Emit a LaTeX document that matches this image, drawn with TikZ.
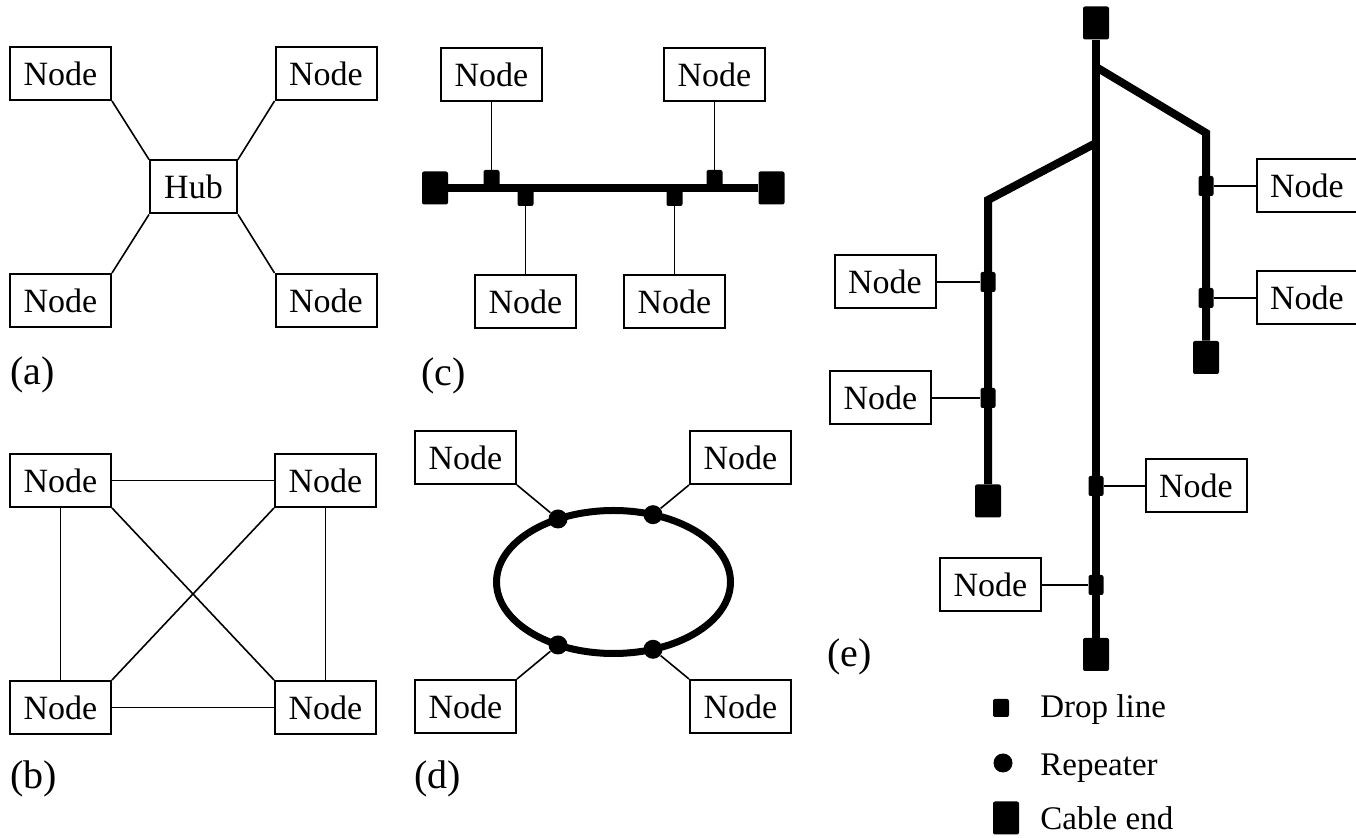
\documentclass[tikz,border=0pt]{standalone}
\usepackage{fontspec}
\setmainfont{Liberation Serif}
\begin{document}
\begin{tikzpicture}[x=0.5pt,y=-0.5pt]
  \tikzstyle{every node}+=[inner sep=0pt]
  \tikzstyle{box}=[draw, line width=1pt, minimum width=50.5pt, minimum height=26.5pt, font=\fontsize{17}{20}\selectfont]
  \tikzstyle{link}=[line width=0.8pt]
  \tikzstyle{drop}=[line width=0.7pt]
  \tikzstyle{cable}=[line width=4pt]
  \tikzstyle{ring}=[line width=3.5pt]
  \tikzstyle{cableend}=[fill, rounded corners=1pt, minimum width=13pt, minimum height=16.5pt]
  \tikzstyle{tap}=[fill, rounded corners=1pt, minimum width=8pt, minimum height=9pt]
  \tikzstyle{vtap}=[tap, minimum width=7.5pt, minimum height=10pt]
  \tikzstyle{repeater}=[circle, fill, minimum size=9.5pt]
  \tikzstyle{caption}=[anchor=west, font=\fontsize{20}{24}\selectfont]
  \tikzstyle{legend}=[anchor=base west, font=\fontsize{16.5}{20}\selectfont]
  \useasboundingbox (0,0) rectangle (1356,838);

  % (a) star
  \node[box] (a1) at (60.5,73.5) {Node};
  \node[box] (a2) at (326,73.5) {Node};
  \node[box] (a3) at (60.5,300.5) {Node};
  \node[box] (a4) at (326,300.5) {Node};
  \node[box, minimum width=43.5pt] (hub) at (193.5,187) {Hub};
  \draw[link] (a1.south east) -- (hub.north west);
  \draw[link] (a2.south west) -- (hub.north east);
  \draw[link] (a3.north east) -- (hub.south west);
  \draw[link] (a4.north west) -- (hub.south east);
  \node[caption] (capa) at (10,375) {(a)};

  % (b) mesh
  \node[box] (b1) at (60.5,480.5) {Node};
  \node[box] (b2) at (325.5,480.5) {Node};
  \node[box] (b3) at (60.5,707.5) {Node};
  \node[box] (b4) at (325.5,707.5) {Node};
  \draw[link] (b1.east) -- (b2.west);
  \draw[link] (b3.east) -- (b4.west);
  \draw[link] (b1.south) -- (b3.north);
  \draw[link] (b2.south) -- (b4.north);
  \draw[link] (b1.south east) -- (b4.north west);
  \draw[link] (b2.south west) -- (b3.north east);
  \node[caption] (capb) at (10,779) {(b)};

  % (c) bus
  \node[box] (c1) at (491.5,74.5) {Node};
  \node[box] (c2) at (714.5,74.5) {Node};
  \node[box] (c3) at (525.5,302) {Node};
  \node[box] (c4) at (674.5,302) {Node};
  \node[cableend] (cl) at (435,188) {};
  \node[cableend] (cr) at (771.5,188) {};
  \draw[cable] (cl) -- (cr);
  \node[tap] (t1) at (491.5,179) {};
  \node[tap] (t2) at (714.5,179) {};
  \node[tap] (t3) at (525.5,197) {};
  \node[tap] (t4) at (674.5,197) {};
  \draw[link] (c1.south) -- (t1.north);
  \draw[link] (c2.south) -- (t2.north);
  \draw[link] (c3.north) -- (t3.south);
  \draw[link] (c4.north) -- (t4.south);
  \node[caption] (capc) at (421,376) {(c)};

  % (d) ring
  \node[box] (d1) at (465.5,457.5) {Node};
  \node[box] (d2) at (740.5,457.5) {Node};
  \node[box] (d3) at (465.5,706.5) {Node};
  \node[box] (d4) at (740.5,706.5) {Node};
  \draw[ring] (613.5,582) ellipse [x radius=58.5pt, y radius=35.75pt];
  \node[repeater] (r1) at (558,519) {};
  \node[repeater] (r2) at (653,514.7) {};
  \node[repeater] (r3) at (558,645) {};
  \node[repeater] (r4) at (653,649.3) {};
  \draw[link] (d1.south east) -- (r1);
  \draw[link] (d2.south west) -- (r2);
  \draw[link] (d3.north east) -- (r3);
  \draw[link] (d4.north west) -- (r4);
  \node[caption] (capd) at (414,779) {(d)};

  % (e) tree
  \node[cableend] (e0) at (1096,23) {};
  \node[cableend] (eR) at (1206,357.5) {};
  \node[cableend] (eL) at (988,501) {};
  \node[cableend] (eB) at (1096,654.5) {};
  \coordinate (jr) at (1096,67);
  \coordinate (kr) at (1206,133);
  \coordinate (jl) at (1096,143);
  \coordinate (kl) at (988,200);
  \draw[cable] (e0) -- (eB);
  \draw[cable] (jr) -- (kr) -- (eR);
  \draw[cable] (jl) -- (kl) -- (eL);
  \node[vtap] (s1) at (1206,186) {};
  \node[vtap] (s2) at (1206,298) {};
  \node[vtap] (s3) at (988,282) {};
  \node[vtap] (s4) at (988,398) {};
  \node[vtap] (s5) at (1096,486) {};
  \node[vtap] (s6) at (1096,585) {};
  \node[box] (e1) at (1307,186) {Node};
  \node[box] (e2) at (1307,298) {Node};
  \node[box] (e3) at (885,282) {Node};
  \node[box] (e4) at (880.5,398) {Node};
  \node[box] (e5) at (1196,486) {Node};
  \node[box] (e6) at (990.5,585) {Node};
  \draw[drop] (s1) -- (e1.west);
  \draw[drop] (s2) -- (e2.west);
  \draw[drop] (s3) -- (e3.east);
  \draw[drop] (s4) -- (e4.east);
  \draw[drop] (s5) -- (e5.west);
  \draw[drop] (s6) -- (e6.east);
  \node[caption] (cape) at (827,657) {(e)};

  % legend
  \node[tap] (lg1) at (1001,708) {};
  \node[repeater] (lg2) at (1003,763) {};
  \node[cableend] (lg3) at (1006,818) {};
  \node[legend] (lt1) at (1040,718) {Drop line};
  \node[legend] (lt2) at (1040,776) {Repeater};
  \node[legend] (lt3) at (1040,830) {Cable end};
\end{tikzpicture}
\end{document}
